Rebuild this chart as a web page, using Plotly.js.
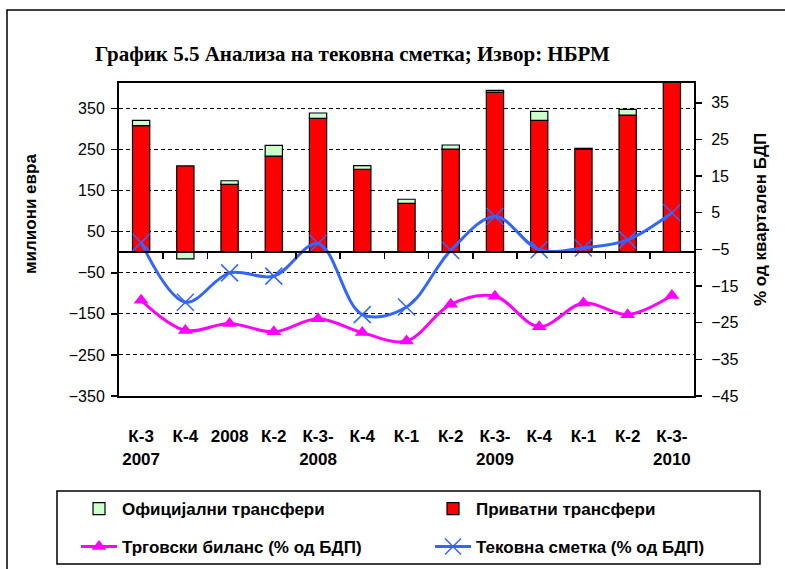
<!DOCTYPE html>
<html><head><meta charset="utf-8">
<script src="https://cdn.plot.ly/plotly-3.0.1.min.js"></script>
<style>html,body{margin:0;padding:0;background:#fff}#chart{width:785px;height:569px}</style>
</head><body><div id="chart"></div>
<script>
// Data
const categories = ["К-3<br>2007","К-4","2008","К-2","К-3-<br>2008","К-4","К-1","К-2","К-3-<br>2009","К-4","К-1","К-2","К-3-<br>2010"];
const privateTransfers = [308, 210, 165, 234, 326, 202, 119, 251, 390, 321, 251, 334, 445];
const officialTransfers = [13, -16, 9, 26, 13, 9, 10, 10, 4, 22, 2, 14, 0];
const tradeBalance = [-18.9, -27.1, -25.2, -27.5, -23.9, -27.7, -30.0, -20.0, -17.8, -26.1, -19.6, -22.8, -17.6];
const currentAccount = [-3.1, -19.4, -11.4, -12.3, -3.4, -22.8, -20.7, -5.3, 4.0, -5.1, -4.6, -2.4, 5.0];

const names = {
  official: "Официјални трансфери",
  priv: "Приватни трансфери",
  trade: "Трговски биланс (% од БДП)",
  current: "Тековна сметка (% од БДП)"
};
const title = "График 5.5 Анализа на тековна сметка; Извор: НБРМ";
const leftTitle = "милиони евра";
const rightTitle = "% од квартален БДП";

const xIdx = categories.map((_, i) => i);
const boundaries = xIdx.slice(0, -1).map(i => i + 0.5);

// pixel helpers for paper coordinates (plot area 119..694 x 83..396)
const PL = 119, PR = 694, PT = 83, PB = 396;
const px = v => (v - PL) / (PR - PL);
const py = v => (PB - v) / (PB - PT);

const yRange = [-350, 412];
const y2Range = [-45, 40.4];

const traces = [
  { type: 'bar', x: xIdx, y: privateTransfers, name: names.priv, xaxis: 'x', yaxis: 'y',
    marker: { color: '#FF0000', line: { color: '#000', width: 1.2 } }, legend: 'legend2' },
  { type: 'bar', x: xIdx, y: officialTransfers, name: names.official, xaxis: 'x', yaxis: 'y',
    marker: { color: '#CCFFCC', line: { color: '#000', width: 1.2 } }, legend: 'legend' },
  { type: 'scatter', mode: 'lines+markers', x: xIdx, y: tradeBalance, name: names.trade, xaxis: 'x2', yaxis: 'y2',
    line: { color: '#FF00FF', width: 3, shape: 'spline', smoothing: 1 },
    marker: { symbol: 'triangle-up', size: 13, color: '#FF00FF' }, legend: 'legend3' },
  { type: 'scatter', mode: 'lines+markers', x: xIdx, y: currentAccount, name: names.current, xaxis: 'x2', yaxis: 'y2',
    line: { color: '#3366FF', width: 3, shape: 'spline', smoothing: 1 },
    marker: { symbol: 'x-thin-open', size: 17, color: '#3366FF', line: { color: '#3366FF', width: 1.5 } }, legend: 'legend4' }
];

const legendFont = { family: 'Liberation Sans, Arial, sans-serif', size: 17, color: '#000', weight: 'bold' };
const mkLegend = (xPix, yPix) => ({ orientation: 'h', x: px(xPix), xanchor: 'left', y: py(yPix), yanchor: 'top',
  font: legendFont, bgcolor: 'rgba(0,0,0,0)', borderwidth: 0, itemwidth: 36 });

const layout = {
  width: 785, height: 569,
  margin: { l: PL, r: 785 - PR, t: PT, b: 569 - PB, pad: 0, autoexpand: false },
  paper_bgcolor: '#fff', plot_bgcolor: 'rgba(0,0,0,0)',
  font: { family: 'Liberation Sans, Arial, sans-serif', color: '#000', size: 16 },
  barmode: 'relative', bargap: 0.61,
  title: { text: '<b>' + title + '</b>', font: { family: 'Liberation Serif, serif', size: 21, color: '#000' },
    xref: 'container', x: 95 / 785, xanchor: 'left', yref: 'container', y: 1 - 54 / 569, yanchor: 'middle' },
  xaxis: { range: [-0.5, 12.5], anchor: 'free', position: (0 - yRange[0]) / (yRange[1] - yRange[0]),
    showline: true, linecolor: '#000', linewidth: 2, ticks: 'outside', ticklen: 6, tickwidth: 1.5, tickcolor: '#000',
    tickmode: 'array', tickvals: boundaries, showticklabels: false, showgrid: false, zeroline: false, fixedrange: true },
  xaxis2: { overlaying: 'x', anchor: 'y2', side: 'bottom', range: [-0.5, 12.5], tickmode: 'array', tickvals: xIdx,
    ticktext: categories, ticks: '', showline: true, mirror: true, linecolor: '#000', linewidth: 2,
    showgrid: false, zeroline: false, ticklabelstandoff: 24,
    tickfont: { size: 17, weight: 'bold', family: 'Liberation Sans, Arial, sans-serif' } },
  yaxis: { range: yRange, tickmode: 'linear', tick0: -350, dtick: 100, ticks: 'outside', ticklen: 6, tickwidth: 1.5,
    tickcolor: '#000', showline: true, linecolor: '#000', linewidth: 2, showgrid: true, gridcolor: '#000', gridwidth: 1,
    griddash: '4px,3px', zeroline: false, tickfont: { size: 16 }, ticklabelstandoff: 3 },
  yaxis2: { overlaying: 'y', side: 'right', anchor: 'x2', range: y2Range, tickmode: 'linear', tick0: -45, dtick: 10,
    ticks: 'outside', ticklen: 6, tickwidth: 1.5, tickcolor: '#000', showline: true, linecolor: '#000', linewidth: 2,
    showgrid: false, zeroline: false, tickfont: { size: 16 }, ticklabelstandoff: 6 },
  annotations: [
    { text: '<b>' + leftTitle + '</b>', xref: 'paper', yref: 'paper', x: px(30), y: py(214), textangle: -90,
      showarrow: false, xanchor: 'center', yanchor: 'middle', font: { size: 17 } },
    { text: '<b>' + rightTitle + '</b>', xref: 'paper', yref: 'paper', x: px(760), y: py(220), textangle: -90,
      showarrow: false, xanchor: 'center', yanchor: 'middle', font: { size: 17 } }
  ],
  shapes: [
    { type: 'rect', xref: 'paper', yref: 'paper', x0: px(7), x1: px(820), y0: py(620), y1: py(10),
      line: { color: '#000', width: 1.5 }, fillcolor: 'rgba(0,0,0,0)', layer: 'below' },
    { type: 'rect', xref: 'paper', yref: 'paper', x0: px(57), x1: px(760), y0: py(564), y1: py(491),
      line: { color: '#000', width: 1.5 }, fillcolor: 'rgba(0,0,0,0)', layer: 'below' }
  ],
  showlegend: true,
  legend: mkLegend(76, 491),
  legend2: mkLegend(430, 491),
  legend3: mkLegend(76, 529),
  legend4: mkLegend(430, 529)
};

Plotly.newPlot('chart', traces, layout, { displayModeBar: false, staticPlot: true });
</script>
</body></html>
